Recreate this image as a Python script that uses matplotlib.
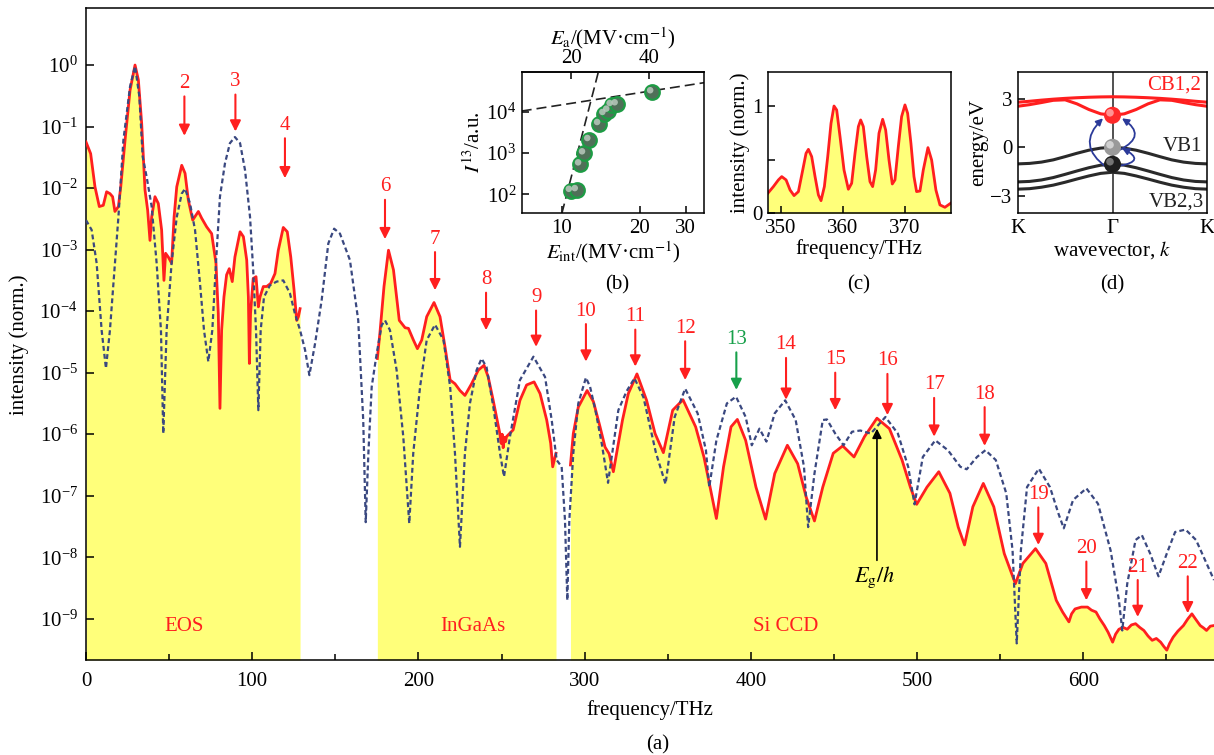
import numpy as np
import matplotlib.pyplot as plt
from matplotlib.ticker import LogLocator, NullLocator, FixedLocator, FixedFormatter
from matplotlib.transforms import offset_copy

plt.rcParams["font.family"] = ["Liberation Serif", "DejaVu Serif"]
plt.rcParams["mathtext.fontset"] = "stix"
plt.rcParams["font.size"] = 15
plt.rcParams["axes.linewidth"] = 1.1
plt.rcParams["xtick.direction"] = "in"
plt.rcParams["ytick.direction"] = "in"

RED = "#ff1f1f"
BLUE = "#3a4880"
YELLOW = "#ffff7a"
GREEN = "#17a04a"

# ---- (a) measured spectrum, log10 of intensity, per detector ----
eos_f = [0.0, 2.8, 5.4, 8.0, 10.4, 12.4, 14.4, 16.0, 17.4, 19.5, 20.9, 23.5, 26.5, 29.5,
         31.5, 33.5, 35.5, 37.1, 38.5, 39.5, 41.5, 43.5, 45.5, 46.9, 47.9, 49.5, 51.5,
         53.0, 54.6, 57.6, 59.6, 61.6, 64.2, 67.6, 69.6, 72.6, 75.6, 78.2, 79.6, 80.6,
         81.6, 83.0, 84.6, 86.2, 88.0, 89.6, 92.7, 94.7, 96.7, 97.7, 98.3, 99.0, 100.6,
         102.3, 103.7, 104.7, 106.7, 108.7, 111.1, 113.7, 115.7, 118.7, 121.1, 123.2,
         125.2, 126.8, 127.8, 128.8]
eos_log = [-1.25, -1.44, -1.98, -2.30, -2.28, -2.06, -2.09, -2.14, -2.38, -2.30, -1.98,
           -1.22, -0.41, 0.0, -0.24, -0.95, -2.03, -2.36, -2.85, -2.47, -2.14, -2.25,
           -2.68, -3.50, -3.06, -3.12, -3.22, -2.47, -1.98, -1.63, -1.76, -2.20, -2.52,
           -2.38, -2.49, -2.63, -2.74, -3.22, -4.04, -5.58, -4.31, -3.77, -3.41, -3.31,
           -3.52, -3.12, -2.71, -2.79, -3.17, -3.77, -4.85, -4.04, -3.47, -3.44, -3.93,
           -3.77, -3.60, -3.60, -3.55, -3.39, -3.01, -2.64, -2.71, -3.12, -3.66, -4.15,
           -4.09, -3.96]

ingaas_f = [175.3, 176.9, 179.3, 182.0, 185.0, 188.5, 192.0, 194.0, 197.0, 199.4, 202.0,
            205.0, 209.4, 213.0, 216.0, 219.1, 222.0, 225.0, 228.0, 232.0, 236.0, 239.5,
            242.0, 245.0, 249.0, 249.8, 250.4, 251.0, 251.8, 252.5, 253.0, 257.0, 261.1,
            265.1, 269.6, 273.2, 277.2, 279.6, 280.8, 282.2, 282.8]
ingaas_log = [-4.77, -4.34, -3.60, -3.01, -3.33, -4.15, -4.27, -4.28, -4.47, -4.61, -4.47,
              -4.09, -3.86, -4.09, -4.58, -5.12, -5.18, -5.29, -5.37, -5.18, -4.96, -4.88,
              -5.07, -5.45, -5.99, -6.15, -6.00, -6.22, -6.05, -6.12, -6.04, -5.93, -5.45,
              -5.20, -5.15, -5.34, -5.77, -6.15, -6.53, -6.37, -6.31]

si_f = [291.5, 293.2, 296.2, 301.5, 305.3, 309.0, 312.3, 314.8, 317.3, 322.8, 326.3, 331.5,
        337.3, 342.4, 347.4, 353.0, 359.2, 366.8, 371.8, 375.5, 379.3, 383.6, 388.1, 391.9,
        396.9, 403.1, 408.9, 414.4, 422.0, 428.2, 433.3, 438.3, 443.3, 449.6, 455.3, 462.1,
        468.4, 475.9, 483.4, 491.0, 496.0, 499.8, 506.0, 513.1, 519.8, 524.8, 528.6, 533.6,
        539.9, 546.2, 552.5, 559.2, 563.7, 571.3, 577.5, 583.8, 587.6, 589.5, 591.4, 593.0,
        595.1, 598.9, 602.6, 605.0, 607.7, 610.0, 612.7, 615.0, 617.7, 619.5, 621.5, 624.0,
        626.5, 629.0, 631.5, 634.0, 636.5, 639.0, 641.5, 644.0, 646.6, 648.5, 650.3, 652.0,
        654.1, 657.0, 660.3, 663.0, 665.4, 668.0, 670.4, 672.5, 674.2, 676.5, 678.7]
si_log = [-6.50, -5.99, -5.56, -5.29, -5.47, -5.85, -6.21, -6.32, -6.61, -5.77, -5.34, -5.02,
          -5.45, -5.99, -6.30, -5.61, -5.44, -5.88, -6.37, -6.86, -7.37, -6.53, -5.88, -5.76,
          -6.10, -6.86, -7.38, -6.64, -6.18, -6.48, -7.02, -7.41, -6.86, -6.31, -6.19, -6.37,
          -6.04, -5.74, -5.91, -6.42, -6.86, -7.14, -6.86, -6.61, -6.96, -7.51, -7.80, -7.18,
          -6.80, -7.18, -7.94, -8.43, -8.10, -7.86, -8.10, -8.70, -8.89, -8.97, -9.05, -8.92,
          -8.84, -8.81, -8.81, -8.86, -8.89, -9.00, -9.11, -9.22, -9.38, -9.25, -9.17, -9.14,
          -9.17, -9.10, -9.08, -9.14, -9.19, -9.28, -9.35, -9.32, -9.38, -9.45, -9.51, -9.40,
          -9.30, -9.20, -9.11, -9.00, -8.92, -9.02, -9.11, -9.15, -9.19, -9.12, -9.11]

# ---- (a) simulated spectrum (dashed) ----
sim_f = [0.0, 3.4, 6.4, 9.4, 12.0, 14.4, 17.4, 19.5, 22.5, 26.5, 29.5, 32.1, 34.1, 36.5,
         39.5, 42.5, 45.1, 46.5, 48.5, 51.5, 54.6, 57.6, 59.6, 62.6, 65.6, 68.6, 71.0, 73.6,
         76.0, 78.2, 80.6, 83.6, 86.6, 89.6, 92.7, 95.7, 98.7, 100.6, 102.3, 103.7, 105.1,
         107.1, 110.7, 114.7, 118.7, 122.7, 125.7, 128.8, 131.8, 134.4, 137.8, 141.8, 145.8,
         149.3, 152.8, 158.8, 163.8, 166.8, 168.3, 169.9, 171.9, 174.9, 177.9, 179.9, 182.9,
         186.9, 190.9, 194.5, 196.9, 201.0, 205.0, 210.0, 215.1, 219.1, 222.0, 225.0, 228.0,
         231.0, 235.0, 238.0, 241.0, 245.1, 249.1, 251.5, 255.1, 261.1, 269.2, 276.2, 280.2,
         283.2, 286.2, 288.2, 289.6, 290.8, 293.2, 296.2, 300.8, 303.3, 306.5, 310.3, 314.1,
         320.3, 325.3, 330.0, 335.4, 342.9, 348.7, 354.2, 360.5, 368.0, 373.0, 375.0, 379.3,
         385.6, 391.1, 396.9, 400.6, 405.2, 409.4, 414.4, 420.7, 427.0, 432.0, 434.5, 438.3,
         443.3, 445.8, 450.8, 455.8, 460.9, 465.9, 472.2, 481.0, 488.5, 494.7, 498.5, 503.5,
         511.0, 518.6, 526.1, 529.9, 536.1, 541.2, 547.4, 553.7, 557.5, 560.0, 562.5, 566.2,
         573.3, 580.0, 585.1, 588.3, 593.9, 601.9, 608.9, 616.5, 621.5, 623.5, 626.5, 631.5,
         635.3, 640.3, 645.3, 650.3, 655.3, 661.6, 667.9, 674.2, 678.7]
sim_log = [-2.52, -2.68, -3.22, -4.31, -4.93, -4.31, -3.22, -2.47, -1.22, -0.35, -0.02, -0.51,
           -1.49, -1.82, -2.30, -3.22, -4.31, -5.99, -4.31, -3.22, -2.47, -2.09, -2.01, -2.25,
           -2.68, -3.55, -4.31, -4.82, -4.31, -3.22, -2.14, -1.60, -1.27, -1.17, -1.27, -1.71,
           -2.47, -3.33, -4.31, -5.61, -4.31, -3.77, -3.58, -3.52, -3.50, -3.71, -4.04, -4.31,
           -4.63, -5.04, -4.53, -3.82, -2.90, -2.66, -2.74, -3.17, -4.15, -5.77, -7.43, -6.31,
           -5.23, -4.69, -4.23, -4.15, -4.31, -4.96, -6.04, -7.45, -6.31, -5.23, -4.47, -4.22,
           -4.47, -5.23, -6.31, -7.83, -6.31, -5.50, -4.96, -4.77, -4.91, -5.56, -6.31, -6.69,
           -6.04, -5.12, -4.74, -5.07, -5.77, -6.42, -6.53, -7.40, -8.70, -7.40, -6.31, -5.50,
           -5.08, -5.23, -5.61, -6.15, -6.79, -5.61, -5.30, -5.09, -5.40, -6.30, -6.81, -5.72,
           -5.26, -5.66, -6.26, -6.86, -6.10, -5.50, -5.39, -5.72, -6.18, -5.91, -6.12, -5.66,
           -5.45, -5.77, -6.53, -7.51, -6.64, -5.77, -5.76, -5.99, -6.18, -5.96, -5.94, -5.99,
           -5.72, -5.99, -6.53, -7.14, -6.37, -6.10, -6.26, -6.53, -6.57, -6.37, -6.26, -6.42,
           -6.96, -7.89, -9.40, -7.89, -6.86, -6.56, -6.86, -7.29, -7.53, -7.07, -6.88, -7.13,
           -7.89, -8.70, -9.19, -8.43, -7.72, -7.64, -7.94, -8.31, -7.94, -7.59, -7.55, -7.72,
           -8.10, -8.37]

# harmonic order markers
order_num = ["2", "3", "4", "6", "7", "8", "9", "10", "11", "12", "13", "14", "15", "16",
             "17", "18", "19", "20", "21", "22"]
order_f = [59.2, 89.9, 119.7, 179.9, 210.0, 240.7, 270.8, 300.8, 330.5, 360.5, 391.3, 421.2,
           450.8, 482.2, 510.3, 540.7, 573.0, 601.9, 632.8, 662.9]
order_label_log = [-0.30, -0.27, -0.98, -1.98, -2.83, -3.49, -3.78, -4.00, -4.09, -4.28,
                   -4.46, -4.55, -4.79, -4.81, -5.20, -5.35, -6.98, -7.86, -8.16, -8.10]
order_tail_log = [-0.51, -0.48, -1.19, -2.19, -3.04, -3.70, -3.99, -4.21, -4.30, -4.49,
                  -4.67, -4.76, -5.00, -5.02, -5.41, -5.56, -7.19, -8.07, -8.37, -8.31]
order_tip_log = [-1.15, -1.08, -1.84, -2.83, -3.66, -4.31, -4.58, -4.82, -4.90, -5.12,
                 -5.28, -5.44, -5.61, -5.69, -6.04, -6.19, -7.80, -8.70, -8.97, -8.91]

detector_names = ["EOS", "InGaAs", "Si CCD"]
detector_label_f = [58.8, 232.6, 420.7]

# ---- (b) scaling of harmonic 13 ----
b_eint = [10.83, 11.42, 11.76, 12.18, 12.76, 13.92, 14.59, 15.1, 15.56, 16.27, 22.3]
b_i13 = [122, 127, 532, 984, 2065, 5035, 8800, 10580, 14500, 15100, 29500]
b_fit_steep_x = [10.0, 13.83]
b_fit_steep_y = [35, 9.3e4]
b_fit_flat_x = [7.0, 35.3]
b_fit_flat_y = [1.04e4, 5.04e4]

# ---- (c) zoom on 350-377 THz ----
c_f = [347.91, 348.82, 349.62, 350.16, 350.86, 351.50, 352.14, 352.84, 353.54, 354.07,
       354.45, 354.98, 355.52, 356.06, 356.48, 357.02, 357.56, 358.09, 358.57, 359.00,
       359.54, 360.18, 360.88, 361.41, 361.95, 362.49, 362.86, 363.29, 363.83, 364.36,
       364.79, 365.27, 365.81, 366.40, 366.88, 367.42, 367.95, 368.38, 368.92, 369.45,
       369.99, 370.42, 370.95, 371.44, 371.86, 372.40, 372.94, 373.69, 374.28, 374.97,
       375.62, 376.42, 377.33]
c_int = [0.186, 0.249, 0.311, 0.342, 0.311, 0.217, 0.165, 0.202, 0.404, 0.559, 0.596, 0.528,
         0.342, 0.171, 0.118, 0.249, 0.528, 0.839, 1.0, 0.963, 0.714, 0.404, 0.224, 0.280,
         0.559, 0.808, 0.870, 0.808, 0.528, 0.295, 0.249, 0.404, 0.746, 0.876, 0.777, 0.497,
         0.273, 0.311, 0.621, 0.901, 1.01, 0.932, 0.652, 0.342, 0.202, 0.208, 0.404, 0.612,
         0.497, 0.217, 0.078, 0.056, 0.093]

# ---- (d) band structure, k from Gamma (0) to K (1) ----
d_k = [0.0, 0.125, 0.25, 0.375, 0.5, 0.625, 0.75, 0.875, 1.0]
vb1 = [0.0, -0.05, -0.18, -0.37, -0.58, -0.78, -0.92, -1.0, -1.03]
vb2 = [-1.05, -1.11, -1.27, -1.47, -1.68, -1.88, -2.03, -2.12, -2.15]
vb3 = [-1.55, -1.62, -1.78, -1.97, -2.17, -2.35, -2.48, -2.57, -2.60]
cb1 = [3.14, 3.13, 3.11, 3.08, 3.04, 2.99, 2.93, 2.86, 2.80]
cb2 = [1.99, 2.08, 2.35, 2.70, 2.95, 2.92, 2.78, 2.65, 2.55]
ball_e = [1.99, 0.0, -1.05]
ball_colors = ["#ff2a2a", "#9a9a9a", "#1e1e1e"]

W, H = 1214, 755


def box(l, t, r, b):
    return [l / W, 1 - b / H, (r - l) / W, (b - t) / H]


fig = plt.figure(figsize=(W / 100, H / 100), dpi=100)

# ================= main panel (a) =================
ax = fig.add_axes(box(86, 8, 1214, 660))
ax.set_yscale("log")
ymin, ymax = 10 ** -9.67, 10 ** 0.927
ax.set_xlim(0, 678.7)
ax.set_ylim(ymin, ymax)

for f, lg in [(eos_f, eos_log), (ingaas_f, ingaas_log), (si_f, si_log)]:
    inten = 10.0 ** np.array(lg)
    ax.fill_between(f, ymin, inten, color=YELLOW, lw=0, zorder=1)
    ax.plot(f, inten, color=RED, lw=2.0, zorder=3)

ax.plot(sim_f, 10.0 ** np.array(sim_log), color=BLUE, lw=1.6, ls=(0, (2.2, 1.4)), zorder=4)

for i, num in enumerate(order_num):
    col = GREEN if num == "13" else RED
    ax.annotate("", xy=(order_f[i], 10 ** order_tip_log[i]),
                xytext=(order_f[i], 10 ** order_tail_log[i]),
                arrowprops=dict(arrowstyle="-|>", color=col, lw=1.5,
                                mutation_scale=16, shrinkA=0, shrinkB=0), zorder=5)
    ax.text(order_f[i], 10 ** order_label_log[i], num, color=col, ha="center",
            va="center", fontsize=15, zorder=5)

ax.annotate("", xy=(475.9, 10 ** -5.91), xytext=(475.9, 10 ** -8.05),
            arrowprops=dict(arrowstyle="-|>", color="black", lw=1.2,
                            mutation_scale=14, shrinkA=0, shrinkB=0), zorder=5)
ax.text(474.7, 10 ** -8.32, r"$E_\mathrm{g}/h$", ha="center", va="center", fontsize=16,
        zorder=5)

for name, f in zip(detector_names, detector_label_f):
    ax.text(f, 10 ** -9.13, name, color=RED, ha="center", va="center", fontsize=15, zorder=5)

ax.spines["right"].set_visible(False)
ax.set_xticks([0, 100, 200, 300, 400, 500, 600])
ax.xaxis.set_minor_locator(FixedLocator([50, 150, 250, 350, 450, 550, 650]))
ax.yaxis.set_major_locator(LogLocator(base=10, numticks=20))
ax.yaxis.set_minor_locator(NullLocator())
ax.tick_params(axis="both", which="major", length=6, width=1.1, labelsize=15)
ax.tick_params(axis="x", which="major", pad=9)
ax.tick_params(axis="y", which="major", pad=6)
ax.tick_params(axis="x", which="minor", length=4, width=1.1)
ax.tick_params(right=False)
ax.set_xlabel("frequency/THz", fontsize=15)
ax.xaxis.set_label_coords(0.5, -0.062)
ax.xaxis.label.set_va("top")
fig.text(19 / W, 1 - 345 / H, "intensity (norm.)", rotation=90, ha="center", va="center",
         fontsize=15)
fig.text(658 / W, 1 - 745 / H, "(a)", ha="center", va="center", fontsize=15)

# ================= inset (b) =================
axb = fig.add_axes(box(521.7, 71.7, 704, 213.3))
axb.set_xscale("log")
axb.set_yscale("log")
axb.set_xlim(7.0, 35.3)
axb.set_ylim(35, 9.3e4)
axb.plot(b_fit_steep_x, b_fit_steep_y, color="#222222", lw=1.2, ls=(0, (6, 3)))
axb.plot(b_fit_flat_x, b_fit_flat_y, color="#222222", lw=1.2, ls=(0, (6, 3)))
axb.scatter(b_eint, b_i13, s=110, facecolor="#4f7058", edgecolor="#1d9c44", lw=1.6, zorder=3)
hl = offset_copy(axb.transData, fig=fig, x=-1.5, y=1.5, units="points")
axb.scatter(b_eint, b_i13, s=22, facecolor="#b9c9bd", edgecolor="none", alpha=0.85,
            transform=hl, zorder=4)
axb.xaxis.set_major_locator(FixedLocator([10, 20, 30]))
axb.xaxis.set_major_formatter(FixedFormatter(["10", "20", "30"]))
axb.xaxis.set_minor_locator(NullLocator())
axb.yaxis.set_major_locator(FixedLocator([1e2, 1e3, 1e4]))
axb.yaxis.set_minor_locator(NullLocator())
axb.tick_params(labelsize=15, length=5, width=1.1, pad=4)
axb.tick_params(axis="x", top=False)
axb.set_xlabel(r"$E_\mathrm{int}$/(MV·cm$^{-1}$)", fontsize=15, labelpad=1)
axb.set_ylabel(r"$I^{13}$/a.u.", fontsize=15, labelpad=1)
sec = axb.secondary_xaxis("top", functions=(lambda x: x * 1.84, lambda x: x / 1.84))
sec.xaxis.set_major_locator(FixedLocator([20, 40]))
sec.xaxis.set_major_formatter(FixedFormatter(["20", "40"]))
sec.xaxis.set_minor_locator(NullLocator())
sec.tick_params(labelsize=15, length=5, width=1.1, pad=3, direction="in")
sec.set_xlabel(r"$E_\mathrm{a}$/(MV·cm$^{-1}$)", fontsize=15, labelpad=3)
fig.text(616.7 / W, 1 - 285 / H, "(b)", ha="center", va="center", fontsize=15)

# ================= inset (c) =================
axc = fig.add_axes(box(767.7, 72.3, 950.7, 213.3))
axc.set_xlim(347.9, 377.35)
axc.set_ylim(0, 1.314)
axc.fill_between(c_f, 0, c_int, color=YELLOW, lw=0)
axc.plot(c_f, c_int, color=RED, lw=2.0)
axc.set_xticks([350, 360, 370])
axc.set_yticks([0, 0.5, 1])
axc.set_yticklabels(["0", "", "1"])
axc.tick_params(labelsize=15, length=5, width=1.1, pad=4)
axc.set_xlabel("frequency/THz", fontsize=15, labelpad=1)
axc.set_ylabel("intensity (norm.)", fontsize=15, labelpad=1)
fig.text(859 / W, 1 - 285 / H, "(c)", ha="center", va="center", fontsize=15)

# ================= inset (d) =================
axd = fig.add_axes(box(1017.7, 72.3, 1207.3, 213.3))
axd.set_xlim(-1, 1)
axd.set_ylim(-4.1, 4.66)
k_full = np.concatenate([-np.array(d_k[::-1]), np.array(d_k[1:])])
for band, col in [(vb1, "#2a2a2a"), (vb2, "#2a2a2a"), (vb3, "#2a2a2a"),
                  (cb1, "#ff1f1f"), (cb2, "#ff1f1f")]:
    e_full = np.concatenate([band[::-1], band[1:]])
    axd.plot(k_full, e_full, color=col, lw=2.2, zorder=2)
axd.axvline(0, color="#333333", lw=1.2, zorder=1)

arrow_kw = dict(arrowstyle="-|>", color="#2b3a99", lw=1.3, mutation_scale=10,
                shrinkA=0, shrinkB=0)
axd.annotate("", xy=(-0.10, 1.80), xytext=(-0.06, -1.25),
             arrowprops=dict(connectionstyle="arc3,rad=-0.6", **arrow_kw), zorder=3)
axd.annotate("", xy=(0.10, 1.80), xytext=(0.08, -0.15),
             arrowprops=dict(connectionstyle="arc3,rad=0.85", **arrow_kw), zorder=3)
axd.annotate("", xy=(0.10, -0.05), xytext=(0.07, -1.15),
             arrowprops=dict(connectionstyle="arc3,rad=1.5", **arrow_kw), zorder=3)

axd.scatter([0, 0, 0], ball_e, s=150, c=ball_colors, edgecolor="none", zorder=4)
hl_d = offset_copy(axd.transData, fig=fig, x=-1.8, y=1.8, units="points")
axd.scatter([0, 0, 0], ball_e, s=30, c=["#ffb0b0", "#e0e0e0", "#8a8a8a"],
            edgecolor="none", alpha=0.8, transform=hl_d, zorder=5)

axd.text(0.36, 3.87, "CB1,2", color=RED, ha="left", va="center", fontsize=15)
axd.text(0.53, 0.05, "VB1", color="#222222", ha="left", va="center", fontsize=15)
axd.text(0.38, -3.37, "VB2,3", color="#222222", ha="left", va="center", fontsize=15)
axd.set_xticks([-1, 0, 1])
axd.set_xticklabels(["K", "Γ", "K"])
axd.set_yticks([-3, 0, 3])
axd.set_yticklabels(["\u22123", "0", "3"])
axd.tick_params(labelsize=15, length=5, width=1.1, pad=4)
axd.tick_params(axis="x", length=0)
axd.set_xlabel(r"wavevector, $k$", fontsize=15, labelpad=1)
axd.set_ylabel("energy/eV", fontsize=15, labelpad=1)
fig.text(1112 / W, 1 - 285 / H, "(d)", ha="center", va="center", fontsize=15)

fig.savefig("out.png", dpi=100)
